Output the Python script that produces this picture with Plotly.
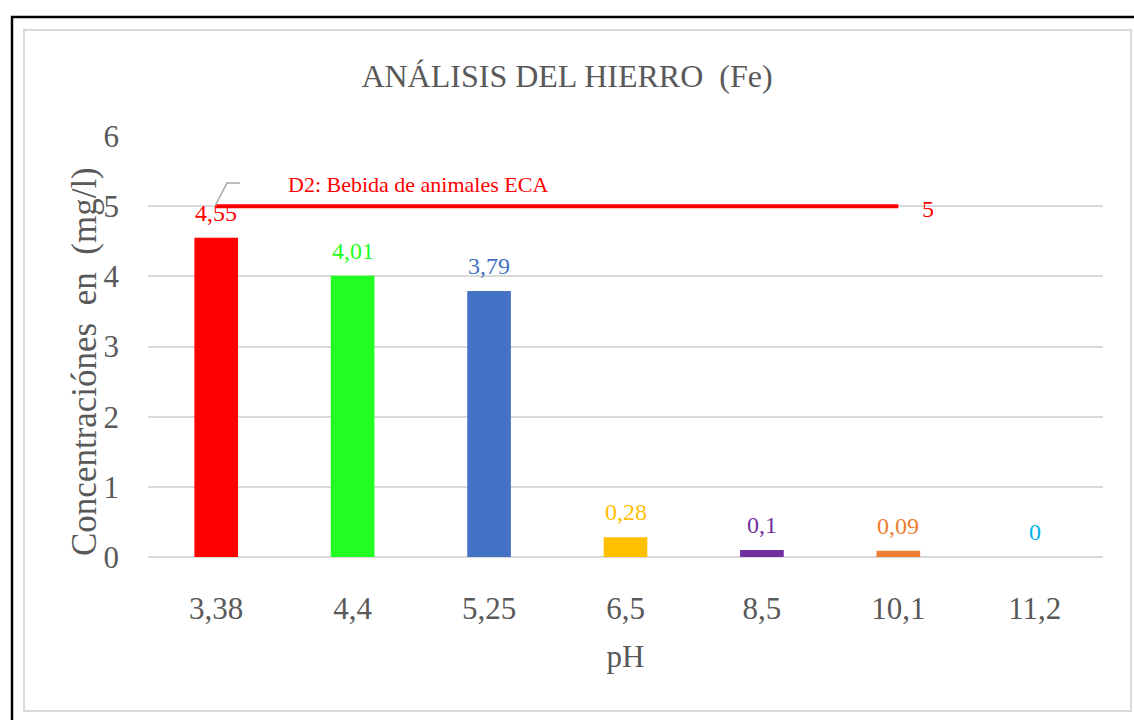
import plotly.graph_objects as go

categories = ["3,38", "4,4", "5,25", "6,5", "8,5", "10,1", "11,2"]
values = [4.55, 4.01, 3.79, 0.28, 0.10, 0.09, 0.0]
value_labels = ["4,55", "4,01", "3,79", "0,28", "0,1", "0,09", "0"]
bar_colors = ["#FF0000", "#22FF22", "#4472C4", "#FFC000", "#7030A0", "#ED7D31", "#00B0F0"]
limit_values = [5, 5, 5, 5, 5, 5, None]
limit_label = "D2: Bebida de animales ECA"
y_ticks = [0, 1, 2, 3, 4, 5, 6]

FONT = "Liberation Serif, serif"
GREY = "#595959"

W, H = 1134, 720
L, R, T, B = 148, 31, 136, 163
pw, ph = W - L - R, H - T - B

def px(x):
    return (x - L) / pw

def py(y):
    return (H - B - y) / ph

fig = go.Figure()
fig.add_trace(go.Bar(
    x=categories, y=values, width=0.32,
    marker=dict(color=bar_colors, line=dict(width=0)),
    showlegend=False, hoverinfo="skip",
))
fig.add_trace(go.Scatter(
    x=categories, y=limit_values, mode="lines",
    line=dict(color="#FF0000", width=4), showlegend=False, hoverinfo="skip",
))

# data labels
for cat, val, lab, col in zip(categories, values, value_labels, bar_colors):
    fig.add_annotation(x=cat, y=val, text=lab, showarrow=False,
                       xanchor="center", yanchor="bottom", yshift=10,
                       font=dict(family=FONT, size=24, color=col))

last_idx = max(i for i, v in enumerate(limit_values) if v is not None)
fig.add_annotation(x=categories[last_idx], y=limit_values[last_idx], text="5",
                   showarrow=False, xanchor="center", yanchor="middle", xshift=30, yshift=-3,
                   font=dict(family=FONT, size=24, color="#FF0000"))
fig.add_annotation(xref="paper", yref="paper", x=px(418), y=py(184),
                   xanchor="center", yanchor="middle",
                   text=limit_label, showarrow=False,
                   font=dict(family=FONT, size=22, color="#FF0000"))

# y axis title
fig.add_annotation(xref="paper", yref="paper", x=px(84), y=py(362),
                   xanchor="center", yanchor="middle", textangle=-90,
                   text="Concentraciónes  en  (mg/l)", showarrow=False,
                   font=dict(family=FONT, size=35, color=GREY))

# leader line
fig.add_shape(type="path", xref="paper", yref="paper",
              path=f"M {px(215)} {py(206)} L {px(227)} {py(183)} L {px(240)} {py(183)}",
              line=dict(color="#A6A6A6", width=1.5))
# inner chart border
fig.add_shape(type="rect", xref="paper", yref="paper",
              x0=px(24), x1=px(1131), y0=py(711), y1=py(30),
              line=dict(color="#D9D9D9", width=2), layer="below")
# outer black frame
fig.add_shape(type="rect", xref="paper", yref="paper",
              x0=px(12), x1=px(1140), y0=py(730), y1=py(17),
              line=dict(color="#000000", width=2.5), layer="below")

fig.update_layout(
    width=W, height=H, margin=dict(l=L, r=R, t=T, b=B),
    paper_bgcolor="white", plot_bgcolor="white",
    title=dict(text="ANÁLISIS DEL HIERRO  (Fe)", x=0.5, xref="container", xanchor="center",
               y=1 - 76 / H, yref="container", yanchor="middle",
               font=dict(family=FONT, size=32, color=GREY)),
    font=dict(family=FONT, color=GREY),
    xaxis=dict(type="category", categoryorder="array", categoryarray=categories,
               showgrid=False, zeroline=False, showline=False, ticks="",
               tickfont=dict(family=FONT, size=31, color=GREY), ticklabelstandoff=30,
               title=dict(text="pH", font=dict(family=FONT, size=31, color=GREY), standoff=20)),
    yaxis=dict(range=[0, 6], tickvals=y_ticks, showgrid=True, gridcolor="#D9D9D9", gridwidth=1.5,
               zeroline=True, zerolinecolor="#D9D9D9", zerolinewidth=1.5,
               showline=False, ticks="",
               tickfont=dict(family=FONT, size=31, color=GREY), ticklabelstandoff=28),
)

fig.write_html("out.html", config={"displayModeBar": False},
               post_script="document.body.style.margin='0';document.body.style.padding='0';")
